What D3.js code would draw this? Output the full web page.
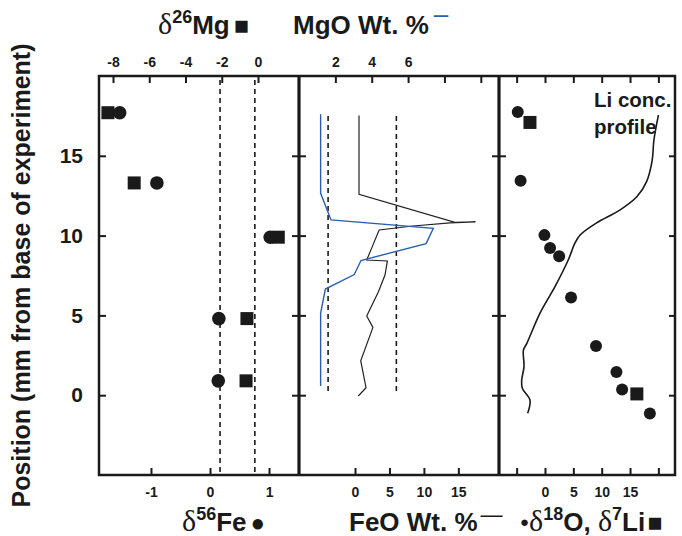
<!DOCTYPE html>
<html>
<head>
<meta charset="utf-8">
<script src="https://cdn.jsdelivr.net/npm/d3@7"></script>
<style>
  body { margin: 0; background: #fff; }
  text { font-family: "Liberation Sans", Arial, sans-serif; font-weight: bold; fill: #1a1a1a; }
  .serif { font-family: "Liberation Serif", "Times New Roman", serif; font-weight: normal; }
</style>
</head>
<body>
<div id="chart"></div>
<script>
// position along the sample, mm
const yTicks = [0, 5, 10, 15]

// panel 1: iron and magnesium isotopes
const fePos = [17.7, 13.3, 9.9, 4.8, 0.9]
const fe56 = [-1.53, -0.90, 1.02, 0.15, 0.14]
const mgPos = [17.7, 13.3, 9.9, 4.8, 0.9]
const mg26 = [-8.28, -6.83, 1.12, -0.61, -0.66]
const feDashed = [0.17, 0.76]
const feTicks = [-1, 0, 1]
const mgTicks = [-8, -6, -4, -2, 0]

// panel 2: oxide profiles
const mgoPos = [17.6, 12.65, 10.98, 10.46, 9.5, 8.44, 7.56, 6.65, 5.15, 0.57]
const mgoVal = [1.19, 1.19, 1.76, 7.39, 6.99, 3.41, 3.04, 1.45, 1.19, 1.19]
const feoPos = [17.53, 12.58, 10.83, 10.86, 10.8, 10.6, 10.35, 9.2, 8.47, 8.41, 7.53, 6.48, 4.96, 4.25, 2.16, 0.47, -0.05]
const feoVal = [0.58, 0.58, 14.5, 17.5, 13.8, 8.4, 3.5, 2.4, 1.7, 4.7, 4.35, 3.4, 1.7, 2.6, 0.83, 1.6, 0.48]
const mgoDashed = 1.6
const feoDashed = 6.0
const dashedSpan = [0.2, 17.5]
const mgoTicks = [2, 4, 6, 8, 10]
const mgoLabels = [2, 4, 6]
const feoTicks = [0, 5, 10, 15]

// panel 3: oxygen and lithium isotopes
const o18Pos = [17.75, 13.43, 10.03, 9.23, 8.71, 6.12, 3.09, 1.46, 0.36, -1.14]
const o18Val = [-4.8, -4.3, -0.1, 0.9, 2.5, 4.6, 9.0, 12.6, 13.6, 18.5]
const li7Pos = [17.09, 0.08]
const li7Val = [-2.65, 16.2]
const liConcPos = [-1.13, -0.3, 0.43, 0.95, 1.79, 2.83, 3.25, 5.13, 6.8, 8.47, 9.54, 10.04, 10.8, 11.6, 12.43, 13.37, 14.7, 15.95, 17.55]
const liConcVal = [-3.05, -2.65, -4.0, -4.1, -3.7, -3.8, -3.2, -0.9, 1.76, 4.1, 5.3, 6.2, 9.1, 13.2, 16.2, 17.9, 18.9, 19.2, 20.0]
const isoTicks = [-5, 0, 5, 10, 15, 20]
const isoLabels = [0, 5, 10, 15]

const width = 682
const height = 536
const yTop = 76, yBot = 475
const x0 = 99, x1 = 299, x2 = 499, x3 = 675

const svg = d3.select('#chart').append('svg')
    .attr('width', width)
    .attr('height', height)

const y = d3.scaleLinear().domain([-5, 20]).range([yBot, yTop])

const xFe = d3.scaleLinear().domain([-1.881, 1.508]).range([x0, x1])
const xMg = d3.scaleLinear().domain([-8.772, 2.262]).range([x0, x1])
const xMgO = d3.scaleLinear().domain([0, 11]).range([x1, x2])
const xFeO = d3.scaleLinear().domain([-8.13, 20.9]).range([x1, x2])
const xIso = d3.scaleLinear().domain([-8.11, 22.93]).range([x2, x3])

const ink = '#1a1a1a'
const blue = '#2b5fae'

const labelFmt = list => d => list.includes(d) ? String(d) : ''

// top axes, ticks pointing into the panels
const topAxis = (scale, ticks, labels) => {
    const g = svg.append('g')
        .attr('transform', `translate(0,${yTop})`)
        .call(d3.axisTop(scale).tickValues(ticks).tickSizeInner(-7).tickSizeOuter(0)
            .tickPadding(9).tickFormat(labelFmt(labels)))
    g.select('.domain').remove()
    g.selectAll('line').attr('stroke', ink).attr('stroke-width', 2)
    g.selectAll('text').attr('font-size', 14).style('fill', ink)
}
const bottomAxis = (scale, ticks, labels) => {
    const g = svg.append('g')
        .attr('transform', `translate(0,${yBot})`)
        .call(d3.axisBottom(scale).tickValues(ticks).tickSizeInner(-7).tickSizeOuter(0)
            .tickPadding(12).tickFormat(labelFmt(labels)))
    g.select('.domain').remove()
    g.selectAll('line').attr('stroke', ink).attr('stroke-width', 2)
    g.selectAll('text').attr('font-size', 14).style('fill', ink)
}

topAxis(xMg, mgTicks, mgTicks)
topAxis(xMgO, mgoTicks, mgoLabels)
topAxis(xIso, isoTicks, [])
bottomAxis(xFe, feTicks, feTicks)
bottomAxis(xFeO, feoTicks, feoTicks)
bottomAxis(xIso, isoTicks, isoLabels)

// vertical axes
const yLeft = svg.append('g')
    .attr('transform', `translate(${x0},0)`)
    .call(d3.axisLeft(y).tickValues(yTicks).tickSizeInner(-7).tickSizeOuter(0).tickPadding(16))
yLeft.select('.domain').remove()
yLeft.selectAll('line').attr('stroke', ink).attr('stroke-width', 2)
yLeft.selectAll('text').attr('font-size', 21).style('fill', ink)

const yInner = (xp, inOnly) => {
    const g = svg.append('g').attr('transform', `translate(${xp},0)`)
    g.call(d3.axisLeft(y).tickValues(yTicks).tickSizeInner(inOnly ? 6 : 7).tickSizeOuter(0).tickFormat(''))
    if (!inOnly) {
        g.append('g').call(d3.axisRight(y).tickValues(yTicks).tickSizeInner(7).tickSizeOuter(0).tickFormat(''))
    }
    g.selectAll('.domain').remove()
    g.selectAll('line').attr('stroke', ink).attr('stroke-width', 2)
}
yInner(x1, false)
yInner(x2, false)
yInner(x3, true)

// frames
svg.append('rect')
    .attr('x', x0).attr('y', yTop)
    .attr('width', x3 - x0).attr('height', yBot - yTop)
    .attr('fill', 'none').attr('stroke', ink).attr('stroke-width', 2.5)
;[x1, x2].forEach(xp => {
    svg.append('line')
        .attr('x1', xp).attr('x2', xp).attr('y1', yTop).attr('y2', yBot)
        .attr('stroke', ink).attr('stroke-width', 3.2)
})

// dashed reference lines
feDashed.forEach(v => {
    svg.append('line')
        .attr('x1', xFe(v)).attr('x2', xFe(v))
        .attr('y1', yTop + 4).attr('y2', yBot)
        .attr('stroke', ink).attr('stroke-width', 1.6)
        .attr('stroke-dasharray', '5,4')
})
;[xMgO(mgoDashed), xFeO(feoDashed)].forEach(xp => {
    svg.append('line')
        .attr('x1', xp).attr('x2', xp)
        .attr('y1', y(dashedSpan[1])).attr('y2', y(dashedSpan[0]))
        .attr('stroke', ink).attr('stroke-width', 1.6)
        .attr('stroke-dasharray', '5,4')
})

// markers
const squares = (scale, vals, pos, side) => {
    svg.append('g').selectAll('rect')
        .data(vals)
        .enter()
        .append('rect')
        .attr('x', (d, i) => scale(d) - side / 2)
        .attr('y', (d, i) => y(pos[i]) - side / 2)
        .attr('width', side).attr('height', side)
        .attr('fill', ink)
}
const circles = (scale, vals, pos, r) => {
    svg.append('g').selectAll('circle')
        .data(vals)
        .enter()
        .append('circle')
        .attr('cx', (d, i) => scale(d))
        .attr('cy', (d, i) => y(pos[i]))
        .attr('r', r)
        .attr('fill', ink)
}
squares(xMg, mg26, mgPos, 13)
circles(xFe, fe56, fePos, 6.8)
circles(xIso, o18Val, o18Pos, 6)
squares(xIso, li7Val, li7Pos, 13)

// profiles
const lineMgO = d3.line().x(d => xMgO(d[0])).y(d => y(d[1]))
const lineFeO = d3.line().x(d => xFeO(d[0])).y(d => y(d[1]))
const lineLi = d3.line().x(d => xIso(d[0])).y(d => y(d[1])).curve(d3.curveCatmullRom)

svg.append('path')
    .attr('d', lineFeO(feoVal.map((v, i) => [v, feoPos[i]])))
    .attr('fill', 'none').attr('stroke', '#222').attr('stroke-width', 1.2)
svg.append('path')
    .attr('d', lineMgO(mgoVal.map((v, i) => [v, mgoPos[i]])))
    .attr('fill', 'none').attr('stroke', blue).attr('stroke-width', 1.4)
svg.append('path')
    .attr('d', lineLi(liConcVal.map((v, i) => [v, liConcPos[i]])))
    .attr('fill', 'none').attr('stroke', ink).attr('stroke-width', 1.6)

svg.append('text').attr('x', 594).attr('y', 107).attr('font-size', 20.5).text('Li conc.')
svg.append('text').attr('x', 594).attr('y', 134).attr('font-size', 20.5).text('profile')

// axis titles
const t1 = svg.append('text').attr('x', 158).attr('y', 34).attr('font-size', 26)
t1.append('tspan').attr('class', 'serif').attr('font-size', 30).text('δ')
t1.append('tspan').attr('font-size', 18).attr('dy', -11).text('26')
t1.append('tspan').attr('dy', 11).text('Mg')
t1.append('tspan').attr('font-size', 25).attr('dx', 4).text('■')

const t2 = svg.append('text').attr('x', 293).attr('y', 34).attr('font-size', 26)
t2.append('tspan').text('MgO Wt. %')
t2.append('tspan').style('fill', blue).attr('font-weight', 'normal').attr('dx', 5).attr('dy', -11).text('–')

const b1 = svg.append('text').attr('x', 182).attr('y', 531).attr('font-size', 26)
b1.append('tspan').attr('class', 'serif').attr('font-size', 30).text('δ')
b1.append('tspan').attr('font-size', 18).attr('dy', -11).text('56')
b1.append('tspan').attr('dy', 11).text('Fe')
b1.append('tspan').attr('font-size', 24).attr('dx', 4).text('●')

const b2 = svg.append('text').attr('x', 349).attr('y', 531).attr('font-size', 26)
b2.append('tspan').text('FeO Wt. %')
b2.append('tspan').attr('font-weight', 'normal').attr('font-size', 22).attr('dx', 3).attr('dy', -9).text('—')

const b3 = svg.append('text').attr('x', 520).attr('y', 531).attr('font-size', 26)
b3.append('tspan').attr('font-size', 15).attr('dy', -4).text('●')
b3.append('tspan').attr('class', 'serif').attr('font-size', 30).attr('dy', 4).text('δ')
b3.append('tspan').attr('font-size', 18).attr('dy', -11).text('18')
b3.append('tspan').attr('dy', 11).text('O, ')
b3.append('tspan').attr('class', 'serif').attr('font-size', 30).text('δ')
b3.append('tspan').attr('font-size', 18).attr('dy', -11).text('7')
b3.append('tspan').attr('dy', 11).text('Li')
b3.append('tspan').attr('font-size', 25).attr('dx', 2).text('■')

svg.append('text')
    .attr('transform', `translate(30,${(yTop + yBot) / 2}) rotate(-90)`)
    .attr('text-anchor', 'middle')
    .attr('font-size', 25)
    .text('Position (mm from base of experiment)')
</script>
</body>
</html>
